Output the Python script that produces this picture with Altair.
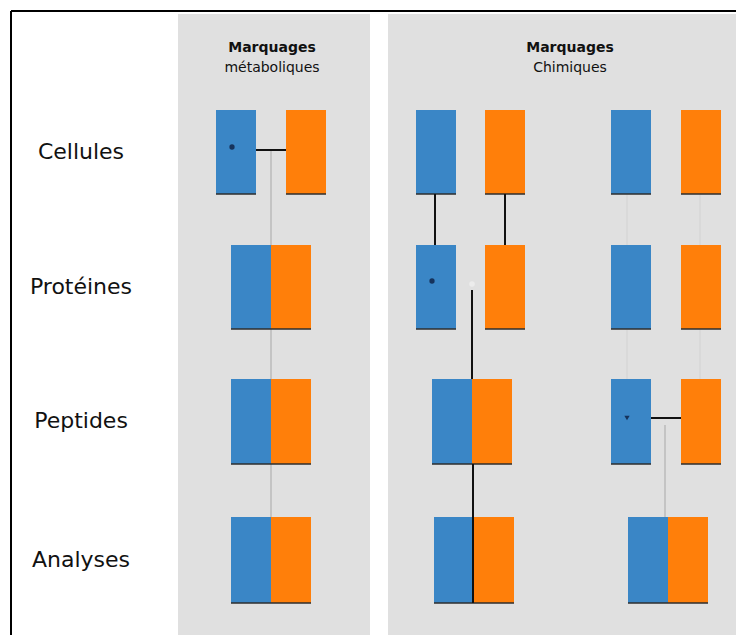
import altair as alt
import pandas as pd

# ---- diagram data (diagram units) ----
rows = ["Cellules", "Protéines", "Peptides", "Analyses"]
row_center = [152, 287, 421, 560]
row_top = [110, 245, 379, 517]
row_bottom = [194, 329, 464, 603]
label_x = 81

panel_titles_1 = ["Marquages", "Marquages"]
panel_titles_2 = ["métaboliques", "Chimiques"]
panel_title_x = [272, 570]
panel_x0 = [178, 388]
panel_x1 = [370, 744]
panel_y0 = [14, 14]
panel_y1 = [643, 643]

box_row = [0, 0, 1, 1, 2, 2, 3, 3,
           0, 0, 1, 1, 2, 2, 3, 3,
           0, 0, 1, 1, 2, 2, 3, 3]
box_label = ["Léger", "Lourd"] * 12
box_left = [216, 286, 231, 271, 231, 271, 231, 271,
            416, 485, 416, 485, 432, 472, 434, 474,
            611, 681, 611, 681, 611, 681, 628, 668]
box_w = 40

black_x = [256, 435, 505, 472, 473, 651]
black_x2 = [286, 435, 505, 472, 473, 681]
black_y = [150, 194, 194, 290, 464, 418]
black_y2 = [150, 245, 245, 379, 603, 418]

gray_x = [271, 665]
gray_y = [150, 425]
gray_y2 = [517, 517]

faint_x = [627, 700]
faint_y = [194, 194]
faint_y2 = [379, 379]

dot_x = [232, 432]
dot_y = [147, 281]
tri_x = [627]
tri_y = [418]

marker_x = [472]
marker_y = [284]

frame_x = [11, 11]
frame_x2 = [744, 11]
frame_y = [11, 11]
frame_y2 = [11, 643]

# ---- tables ----
boxes = pd.DataFrame({
    "x": box_left,
    "x2": [v + box_w for v in box_left],
    "y": [row_top[r] for r in box_row],
    "y2": [row_bottom[r] for r in box_row],
    "marquage": box_label,
})
panels = pd.DataFrame({"x": panel_x0, "x2": panel_x1, "y": panel_y0, "y2": panel_y1})
labels = pd.DataFrame({"x": [label_x] * 4, "y": row_center, "t": rows})
titles1 = pd.DataFrame({"x": panel_title_x, "y": [48, 48], "t": panel_titles_1})
titles2 = pd.DataFrame({"x": panel_title_x, "y": [68, 68], "t": panel_titles_2})
black = pd.DataFrame({"x": black_x, "x2": black_x2, "y": black_y, "y2": black_y2})
gray = pd.DataFrame({"x": gray_x, "x2": gray_x, "y": gray_y, "y2": gray_y2})
faint = pd.DataFrame({"x": faint_x, "x2": faint_x, "y": faint_y, "y2": faint_y2})
dots = pd.DataFrame({"x": dot_x, "y": dot_y})
tris = pd.DataFrame({"x": tri_x, "y": tri_y})
markers = pd.DataFrame({"x": marker_x, "y": marker_y})
frame = pd.DataFrame({"x": frame_x, "x2": frame_x2, "y": frame_y, "y2": frame_y2})

W, H = 728, 627
xs = alt.Scale(domain=[8, 8 + W], nice=False, zero=False)
ys = alt.Scale(domain=[8, 8 + H], nice=False, zero=False, reverse=True)

def X(f="x"):
    return alt.X(f"{f}:Q", scale=xs, axis=None)

def Y(f="y"):
    return alt.Y(f"{f}:Q", scale=ys, axis=None)

panel_layer = alt.Chart(panels).mark_rect(color="#e0e0e0", clip=True).encode(
    x=X(), x2="x2", y=Y(), y2="y2")

frame_layer = alt.Chart(frame).mark_rule(color="#000000", strokeWidth=2, clip=True).encode(
    x=X(), x2="x2", y=Y(), y2="y2")

gray_layer = alt.Chart(gray).mark_rule(color="#a8a8a8", strokeWidth=1).encode(
    x=X(), x2="x2", y=Y(), y2="y2")

faint_layer = alt.Chart(faint).mark_rule(color="#d2d2d2", strokeWidth=1).encode(
    x=X(), x2="x2", y=Y(), y2="y2")

box_layer = alt.Chart(boxes).mark_rect().encode(
    x=X(), x2="x2", y=Y(), y2="y2",
    color=alt.Color("marquage:N",
                    scale=alt.Scale(domain=["Léger", "Lourd"], range=["#3a86c6", "#ff7f0a"]),
                    legend=None))

box_edge = alt.Chart(boxes).mark_rule(color="#2e2e2e", strokeWidth=1.5).encode(
    x=X(), x2="x2", y=Y("y2"))

black_layer = alt.Chart(black).mark_rule(color="#111111", strokeWidth=2).encode(
    x=X(), x2="x2", y=Y(), y2="y2")

marker_layer = alt.Chart(markers).mark_point(filled=True, shape="circle", size=30,
                                             color="#ececec", opacity=1).encode(x=X(), y=Y())

dot_layer = alt.Chart(dots).mark_point(filled=True, shape="circle", size=28,
                                       color="#16335c", opacity=1).encode(x=X(), y=Y())

tri_layer = alt.Chart(tris).mark_point(filled=True, shape="triangle-down", size=28,
                                       color="#16335c", opacity=1).encode(x=X(), y=Y())

label_layer = alt.Chart(labels).mark_text(font="DejaVu Sans", fontSize=22,
                                          color="#111111", align="center",
                                          baseline="middle").encode(
    x=X(), y=Y(), text="t:N")

title1_layer = alt.Chart(titles1).mark_text(font="DejaVu Sans", fontSize=14,
                                            fontWeight="bold", color="#111111",
                                            align="center", baseline="middle").encode(
    x=X(), y=Y(), text="t:N")

title2_layer = alt.Chart(titles2).mark_text(font="DejaVu Sans", fontSize=14,
                                            color="#111111", align="center",
                                            baseline="middle").encode(
    x=X(), y=Y(), text="t:N")

chart = alt.layer(
    panel_layer, frame_layer, gray_layer, faint_layer, box_layer, box_edge,
    black_layer, marker_layer, dot_layer, tri_layer,
    label_layer, title1_layer, title2_layer
).properties(
    width=W, height=H, padding=0, autosize=alt.AutoSizeParams(type="none"),
    background="white"
).configure_view(stroke=None)

chart.save("out.html", embed_options={"renderer": "svg", "actions": False})
